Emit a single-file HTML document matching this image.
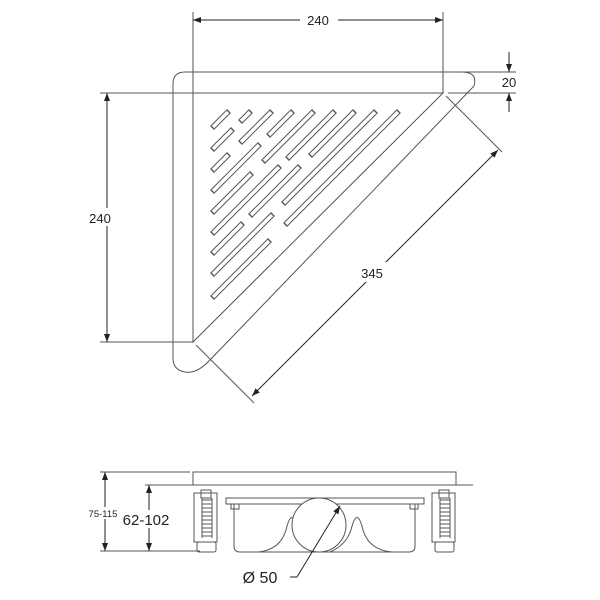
<!DOCTYPE html>
<html><head><meta charset="utf-8"><style>
html,body{margin:0;padding:0;background:#fff;}
svg{display:block;}
text{font-family:"Liberation Sans",sans-serif;fill:#222;}
</style></head><body>
<svg width="600" height="600" viewBox="0 0 600 600" xmlns="http://www.w3.org/2000/svg">
<defs>
<marker id="ar" markerWidth="8" markerHeight="6" refX="8" refY="3" orient="auto" markerUnits="userSpaceOnUse">
<path d="M0,0 L8,3 L0,6 z" fill="#222"/></marker>
</defs>
<g fill="none" stroke="#555" stroke-width="1">
<path d="M185,72 L462,72 Q478,72 474,86 L208,362 Q196,374 185,372 Q173,370 173,358 L173,84 Q173,72 185,72 Z"/>
<path d="M193,93 L443,93 L193,342 Z"/>
<line x1="193" y1="12" x2="193" y2="93"/>
<line x1="443" y1="12" x2="443" y2="93"/>
<line x1="318" y1="20" x2="193" y2="20" stroke="#222" marker-end="url(#ar)"/>
<line x1="318" y1="20" x2="443" y2="20" stroke="#222" marker-end="url(#ar)"/>
<line x1="100" y1="93" x2="193" y2="93"/>
<line x1="100" y1="342" x2="193" y2="342"/>
<line x1="107" y1="218" x2="107" y2="93" stroke="#222" marker-end="url(#ar)"/>
<line x1="107" y1="218" x2="107" y2="342" stroke="#222" marker-end="url(#ar)"/>
<line x1="462" y1="72" x2="516" y2="72"/>
<line x1="448" y1="93" x2="516" y2="93"/>
<line x1="509" y1="52" x2="509" y2="72" stroke="#222" marker-end="url(#ar)"/>
<line x1="509" y1="112" x2="509" y2="93" stroke="#222" marker-end="url(#ar)"/>
<line x1="446" y1="96" x2="502" y2="152"/>
<line x1="196" y1="345" x2="254" y2="403"/>
<line x1="374" y1="274" x2="498" y2="150" stroke="#222" marker-end="url(#ar)"/>
<line x1="374" y1="274" x2="252" y2="396" stroke="#222" marker-end="url(#ar)"/>
</g>
<rect x="355" y="262" width="36" height="20" fill="#fff"/>
<text x="372" y="278" font-size="13" text-anchor="middle">345</text>
<rect x="300" y="12" width="38" height="16" fill="#fff"/>
<text x="318" y="25" font-size="13" text-anchor="middle">240</text>
<rect x="84" y="208" width="38" height="18" fill="#fff"/>
<text x="100" y="223" font-size="13" text-anchor="middle">240</text>
<text x="509" y="87" font-size="13" text-anchor="middle">20</text>
<g stroke-linecap="butt">
<g stroke="#555" stroke-width="5.5">
<line x1="212" y1="128" x2="229" y2="111"/>
<line x1="212" y1="150" x2="233" y2="129"/><line x1="240" y1="122" x2="251" y2="111"/>
<line x1="212" y1="171" x2="229" y2="154"/><line x1="240" y1="143" x2="272" y2="111"/>
<line x1="212" y1="192" x2="260" y2="144"/><line x1="268" y1="136" x2="293" y2="111"/>
<line x1="212" y1="213" x2="252" y2="173"/><line x1="263" y1="162" x2="314" y2="111"/>
<line x1="212" y1="234" x2="280" y2="166"/><line x1="287" y1="159" x2="335" y2="111"/>
<line x1="212" y1="254" x2="243" y2="223"/><line x1="250" y1="216" x2="300" y2="166"/><line x1="310" y1="156" x2="355" y2="111"/>
<line x1="212" y1="275" x2="273" y2="214"/><line x1="283" y1="204" x2="376" y2="111"/>
<line x1="212" y1="298" x2="270" y2="240"/><line x1="285" y1="225" x2="399" y2="111"/>
</g>
<g stroke="#fff" stroke-width="3.5">
<line x1="213" y1="127" x2="228" y2="112"/>
<line x1="213" y1="149" x2="232" y2="130"/><line x1="241" y1="121" x2="250" y2="112"/>
<line x1="213" y1="170" x2="228" y2="155"/><line x1="241" y1="142" x2="271" y2="112"/>
<line x1="213" y1="191" x2="259" y2="145"/><line x1="269" y1="135" x2="292" y2="112"/>
<line x1="213" y1="212" x2="251" y2="174"/><line x1="264" y1="161" x2="313" y2="112"/>
<line x1="213" y1="233" x2="279" y2="167"/><line x1="288" y1="158" x2="334" y2="112"/>
<line x1="213" y1="253" x2="242" y2="224"/><line x1="251" y1="215" x2="299" y2="167"/><line x1="311" y1="155" x2="354" y2="112"/>
<line x1="213" y1="274" x2="272" y2="215"/><line x1="284" y1="203" x2="375" y2="112"/>
<line x1="213" y1="297" x2="269" y2="241"/><line x1="286" y1="224" x2="398" y2="112"/>
</g>
</g>
<g fill="none" stroke="#555" stroke-width="1">
<rect x="193" y="472" width="263" height="13"/>
<line x1="145" y1="485" x2="473" y2="485"/>
<line x1="100" y1="472" x2="190" y2="472"/>
<line x1="100" y1="551" x2="200" y2="551"/>
<line x1="105" y1="512" x2="105" y2="472" stroke="#222" marker-end="url(#ar)"/>
<line x1="105" y1="512" x2="105" y2="551" stroke="#222" marker-end="url(#ar)"/>
<line x1="149" y1="518" x2="149" y2="485" stroke="#222" marker-end="url(#ar)"/>
<line x1="149" y1="518" x2="149" y2="551" stroke="#222" marker-end="url(#ar)"/>
<rect x="226" y="498" width="198" height="6"/>
<path d="M234,504 L234,546 Q234,552 240,552 L409,552 Q415,552 415,546 L415,504"/>
<rect x="231" y="504" width="8" height="5"/>
<rect x="410" y="504" width="8" height="5"/>
<path d="M258,552 Q280,550 286,530 Q292,505 298,530 Q302,545 319,552"/>
<path d="M330,552 Q346,545 351,530 Q357,505 363,530 Q369,550 392,552"/>
<circle cx="319" cy="525" r="27" fill="#fff"/>
<g>
<rect x="194" y="493" width="23" height="49"/>
<rect x="201" y="490" width="10" height="8"/>
<rect x="197" y="542" width="19" height="10" rx="2"/>
<path d="M202,500 h10 M202,504 h10 M202,508 h10 M202,512 h10 M202,516 h10 M202,520 h10 M202,524 h10 M202,528 h10 M202,532 h10 M202,536 h10 M202,498 v40 M212,498 v40"/>
</g>
<g transform="translate(238,0)">
<rect x="194" y="493" width="23" height="49"/>
<rect x="201" y="490" width="10" height="8"/>
<rect x="197" y="542" width="19" height="10" rx="2"/>
<path d="M202,500 h10 M202,504 h10 M202,508 h10 M202,512 h10 M202,516 h10 M202,520 h10 M202,524 h10 M202,528 h10 M202,532 h10 M202,536 h10 M202,498 v40 M212,498 v40"/>
</g>
<line x1="290" y1="577" x2="297" y2="577" stroke="#222"/>
<line x1="297" y1="577" x2="340" y2="506" stroke="#222" marker-end="url(#ar)"/>
</g>
<rect x="124" y="510" width="44" height="18" fill="#fff"/>
<text x="146" y="525" font-size="15" text-anchor="middle">62-102</text>
<rect x="89" y="507" width="29" height="12" fill="#fff"/>
<text x="103" y="517" font-size="9.5" text-anchor="middle">75-115</text>
<text x="260" y="583" font-size="16" text-anchor="middle">Ø 50</text>
</svg>
</body></html>
